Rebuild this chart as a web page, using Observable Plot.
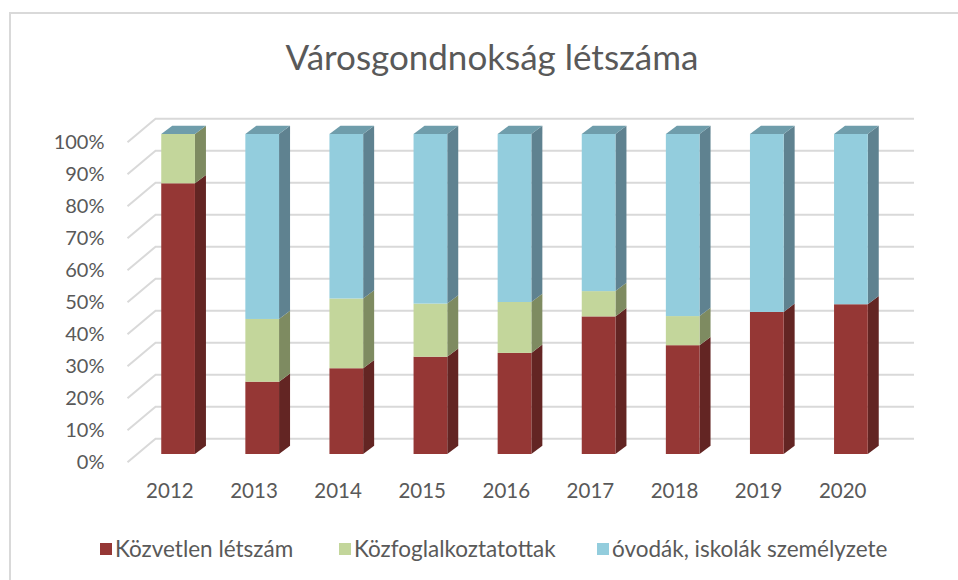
<!DOCTYPE html>
<html><head><meta charset="utf-8">
<script src="https://cdn.jsdelivr.net/npm/d3@7"></script>
<script src="https://cdn.jsdelivr.net/npm/@observablehq/plot@0.6"></script>
<style>
body{margin:0;background:#fff;font-family:Lato,"Open Sans",sans-serif;color:#595959;}
#wrap{position:relative;width:958px;height:580px;overflow:hidden;background:#fff;}
#frame{position:absolute;left:9px;top:12px;width:1000px;height:620px;border:2px solid #d9d9d9;box-sizing:border-box;}
#title{position:absolute;left:0;top:39px;width:984px;text-align:center;font-size:35px;line-height:1;white-space:nowrap;}
#chart{position:absolute;left:0;top:100px;}
.lg{position:absolute;top:537px;display:flex;align-items:center;font-size:22.5px;line-height:24px;white-space:nowrap;}
.lg i{display:inline-block;width:12px;height:12px;margin-right:3px;}
</style>
</head><body>
<div id="wrap">
  <div id="frame"></div>
  <div id="title">Városgondnokság létszáma</div>
  <div id="chart"></div>
  <div id="legend"></div>
</div>
<script>
// ---- data (percent) ----
const years = [2012, 2013, 2014, 2015, 2016, 2017, 2018, 2019, 2020];
const seriesNames = ["Közvetlen létszám", "Közfoglalkoztatottak", "óvodák, iskolák személyzete"];
const kozvetlen = [84.6, 22.6, 26.8, 30.4, 31.6, 43.0, 34.0, 44.4, 46.8];
const kozfoglalkoztatottak = [15.4, 19.6, 21.8, 16.6, 15.9, 7.9, 9.1, 0, 0];
const ovodak = [0, 57.8, 51.4, 53.0, 52.5, 49.1, 56.9, 55.6, 53.2];
const yTicks = [0, 10, 20, 30, 40, 50, 60, 70, 80, 90, 100];

// ---- styles ----
const frontColors = ["#953735", "#c3d69b", "#93cddd"];
const sideColors = ["#632523", "#7e8b61", "#5f8290"];
const topColor = "#6f9dab";
const gridColor = "#d9d9d9";

// geometry of the pseudo-3D look (pixels converted to scale units)
const W = 958, H = 420, mL = 94, mR = 23, mT = 34, mB = 66;
const xDomain = [2011, 2021];
const pxX = (W - mL - mR) / (xDomain[1] - xDomain[0]);
const pxY = (H - mT - mB) / 100;
const half = 16.85 / pxX;           // half bar width
const depX = 11 / pxX, depY = 8.3 / pxY; // bar depth
const wallFrontX = xDomain[0] + (127 - mL) / pxX;
const wallBackX = xDomain[0] + (155 - mL) / pxX;
const wallEndX = xDomain[0] + (914 - mL) / pxX;
const frontOff = -7.7 / pxY, backOff = 15.7 / pxY;

const all = [kozvetlen, kozfoglalkoztatottak, ovodak];
const segs = [];
years.forEach((yr, i) => {
  let acc = 0;
  all.forEach((arr, s) => {
    const v = arr[i];
    segs.push({year: yr, s, y1: acc, y2: acc + v, key: yr + "-" + s});
    acc += v;
  });
});
const vis = segs.filter(d => d.y2 > d.y1);
const sidePts = vis.flatMap(d => [
  {key: d.key, s: d.s, x: d.year + half, y1: d.y1, y2: d.y2},
  {key: d.key, s: d.s, x: d.year + half + depX, y1: d.y1 + depY, y2: d.y2 + depY}
]);
const topPts = years.flatMap(yr => [
  {key: yr, y: 100, x1: yr - half, x2: yr + half},
  {key: yr, y: 100 + depY, x1: yr - half + depX, x2: yr + half + depX}
]);

const plot = Plot.plot({
  width: W, height: H,
  marginLeft: mL, marginRight: mR, marginTop: mT, marginBottom: mB,
  x: {domain: xDomain},
  y: {domain: [0, 100]},
  color: {type: "identity"},
  style: {fontFamily: "Lato, 'Open Sans', sans-serif", fontSize: "20px", color: "#595959", background: "transparent", overflow: "visible"},
  marks: [
    Plot.link(yTicks, {x1: wallFrontX, x2: wallBackX, y1: d => d + frontOff, y2: d => d + backOff, stroke: gridColor, strokeWidth: 2}),
    Plot.ruleY(yTicks, {y: d => d + backOff, x1: wallBackX, x2: wallEndX, stroke: gridColor, strokeWidth: 2}),
    Plot.areaY(sidePts, {x: "x", y1: "y1", y2: "y2", z: "key", fill: d => sideColors[d.s], curve: "linear"}),
    Plot.areaX(topPts, {y: "y", x1: "x1", x2: "x2", z: "key", fill: topColor, curve: "linear"}),
    Plot.rectY(vis, {x1: d => d.year - half, x2: d => d.year + half, y1: "y1", y2: "y2", fill: d => frontColors[d.s]}),
    Plot.axisY({ticks: yTicks, tickFormat: d => d + "%", tickSize: 0, tickPadding: 0, dx: 10, dy: -frontOff * pxY, fontSize: 20}),
    Plot.axisX({ticks: years, tickFormat: d => String(d), tickSize: 0, tickPadding: 29, dx: -8.7, fontSize: 20.5})
  ]
});
document.getElementById("chart").appendChild(plot);

const lgLeft = [100, 339, 597];
const legend = document.getElementById("legend");
seriesNames.forEach((n, i) => {
  const el = document.createElement("div");
  el.className = "lg";
  el.style.left = lgLeft[i] + "px";
  el.innerHTML = `<i style="background:${frontColors[i]}"></i><span>${n}</span>`;
  legend.appendChild(el);
});
</script>
</body></html>
